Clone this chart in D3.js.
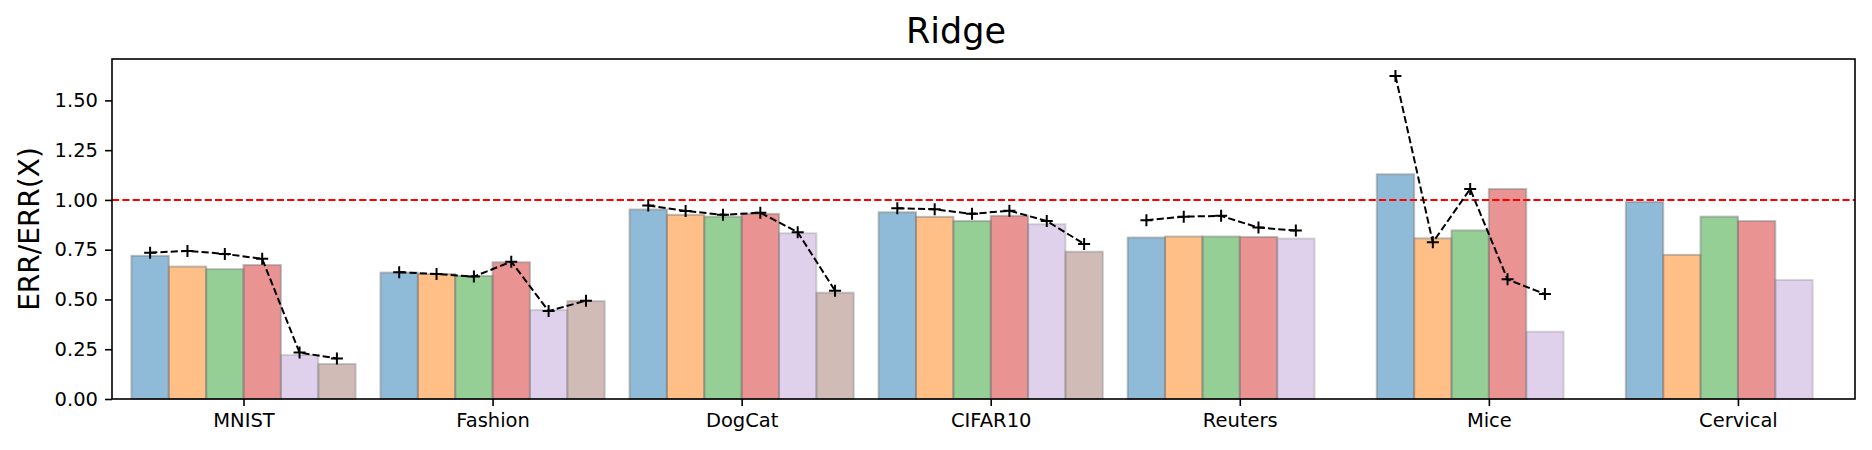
<!DOCTYPE html>
<html>
<head>
<meta charset="utf-8">
<script src="https://cdn.jsdelivr.net/npm/d3@7"></script>
<style>
  body { margin: 0; background: #fff; }
  svg { font-family: 'DejaVu Sans', sans-serif; }
</style>
</head>
<body>
<svg id="chart" width="1872" height="450"></svg>
<script>
const categories = ['MNIST', 'Fashion', 'DogCat', 'CIFAR10', 'Reuters', 'Mice', 'Cervical']

// bar heights per series (null = no bar)
const seriesBlue = [0.719, 0.635, 0.952, 0.938, 0.811, 1.129, 0.990]
const seriesOrange = [0.665, 0.628, 0.925, 0.915, 0.816, 0.807, 0.724]
const seriesGreen = [0.652, 0.618, 0.916, 0.894, 0.816, 0.847, 0.916]
const seriesRed = [0.673, 0.687, 0.930, 0.920, 0.814, 1.055, 0.894]
const seriesPurple = [0.221, 0.447, 0.833, 0.878, 0.806, 0.338, 0.598]
const seriesBrown = [0.176, 0.492, 0.534, 0.740, null, null, null]

// dashed marker lines, one per category
const markersMNIST = [0.735, 0.744, 0.729, 0.704, 0.233, 0.204]
const markersFashion = [0.637, 0.628, 0.615, 0.690, 0.442, 0.494]
const markersDogCat = [0.972, 0.945, 0.925, 0.936, 0.838, 0.544]
const markersCIFAR10 = [0.958, 0.953, 0.930, 0.946, 0.894, 0.779]
const markersReuters = [0.898, 0.916, 0.920, 0.861, 0.846]
const markersMice = [1.623, 0.787, 1.055, 0.601, 0.527]
const markersCervical = []

const yTicks = [0, 0.25, 0.5, 0.75, 1.0, 1.25, 1.5]
const refLine = 1.0

const series = [seriesBlue, seriesOrange, seriesGreen, seriesRed, seriesPurple, seriesBrown]
const colors = ['#1f77b4', '#ff7f0e', '#2ca02c', '#d62728', '#9467bd', '#8c564b']
const alphas = [0.5, 0.5, 0.5, 0.5, 0.3, 0.4]
const markers = [markersMNIST, markersFashion, markersDogCat, markersCIFAR10, markersReuters, markersMice, markersCervical]

const barW = 0.15
const margin = { top: 59, bottom: 51, left: 112, right: 17 }
const W = 1872
const H = 450

const svg = d3.select('#chart')

const x = d3.scaleLinear()
  .domain([-0.528, 6.47])
  .range([margin.left, W - margin.right])

const y = d3.scaleLinear()
  .domain([0, 1.708])
  .range([H - margin.bottom, margin.top])

// bars
const barData = []
series.forEach((s, j) => {
  s.forEach((v, i) => {
    if (v !== null) barData.push({ i, j, v })
  })
})

svg.append('g').attr('class', 'bars')
  .selectAll('rect')
  .data(barData)
  .enter()
  .append('rect')
  .attr('x', d => x(d.i + (d.j - 3) * barW))
  .attr('y', d => y(d.v))
  .attr('width', x(barW) - x(0))
  .attr('height', d => y(0) - y(d.v))
  .attr('fill', d => colors[d.j])
  .attr('fill-opacity', d => alphas[d.j])
  .attr('stroke', 'grey')
  .attr('stroke-opacity', d => alphas[d.j])
  .attr('stroke-width', 2)

// reference line
svg.append('line')
  .attr('x1', x.range()[0])
  .attr('x2', x.range()[1])
  .attr('y1', y(refLine))
  .attr('y2', y(refLine))
  .attr('stroke', 'red')
  .attr('stroke-width', 2)
  .attr('stroke-dasharray', '7.2,3.1')

// dashed lines with + markers
const line = d3.line()
  .x(d => x(d.i + (d.j - 2.5) * barW))
  .y(d => y(d.v))

markers.forEach((m, i) => {
  const pts = m.map((v, j) => ({ i, j, v }))
  if (!pts.length) return
  const g = svg.append('g').attr('class', 'markers')
  g.append('path')
    .attr('d', line(pts))
    .attr('fill', 'none')
    .attr('stroke', 'black')
    .attr('stroke-width', 2)
    .attr('stroke-dasharray', '7.2,3.1')
  const s = 6
  g.selectAll('path.plus')
    .data(pts)
    .enter()
    .append('path')
    .attr('class', 'plus')
    .attr('d', d => {
      const cx = line.x()(d)
      const cy = line.y()(d)
      return `M${cx - s},${cy}H${cx + s}M${cx},${cy - s}V${cy + s}`
    })
    .attr('stroke', 'black')
    .attr('stroke-width', 2)
})

// axes
const xAxis = d3.axisBottom(x)
  .tickValues(d3.range(categories.length))
  .tickFormat((t, i) => categories[i])
  .tickSize(7)
  .tickPadding(6)

const yAxis = d3.axisLeft(y)
  .tickValues(yTicks)
  .tickFormat(d3.format('.2f'))
  .tickSize(7)
  .tickPadding(7)

const gx = svg.append('g')
  .attr('transform', `translate(0, ${y(0)})`)
  .call(xAxis)
const gy = svg.append('g')
  .attr('transform', `translate(${x.range()[0]}, 0)`)
  .call(yAxis)

;[gx, gy].forEach(g => {
  g.select('.domain').remove()
  g.selectAll('line').attr('stroke', '#000').attr('stroke-width', 1.6)
  g.selectAll('text').attr('font-size', 19.5).attr('fill', '#000')
    .attr('font-family', "'DejaVu Sans', sans-serif")
})
gx.selectAll('text').attr('dy', '0.78em')

// frame
svg.append('rect')
  .attr('x', x.range()[0])
  .attr('y', y.range()[1])
  .attr('width', x.range()[1] - x.range()[0])
  .attr('height', y.range()[0] - y.range()[1])
  .attr('fill', 'none')
  .attr('stroke', '#000')
  .attr('stroke-width', 1.6)

// labels
svg.append('text')
  .attr('transform', `translate(39, ${(y.range()[0] + y.range()[1]) / 2}) rotate(-90)`)
  .attr('text-anchor', 'middle')
  .attr('font-size', 28)
  .text('ERR/ERR(X)')

svg.append('text')
  .attr('x', 956)
  .attr('y', 43)
  .attr('text-anchor', 'middle')
  .attr('font-size', 35)
  .text('Ridge')
</script>
</body>
</html>
